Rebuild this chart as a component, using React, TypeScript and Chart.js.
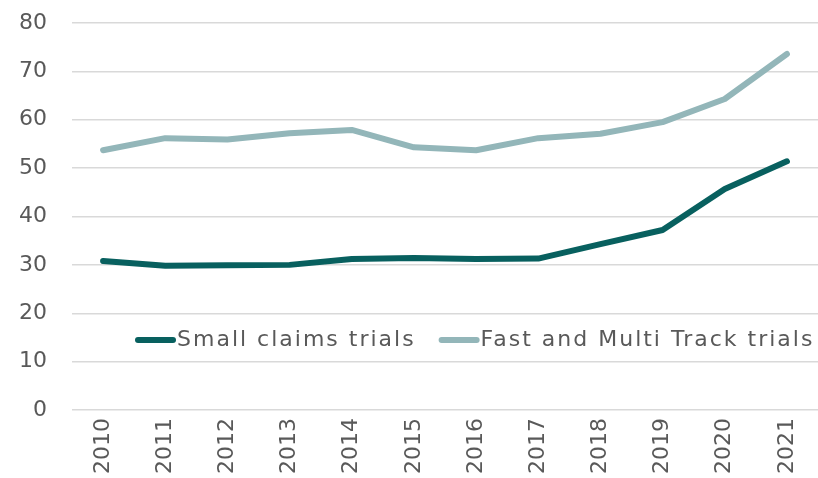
import React, { useEffect, useRef } from "react";
import { Chart, registerables } from "chart.js";

Chart.register(...registerables);

const years = ["2010", "2011", "2012", "2013", "2014", "2015", "2016", "2017", "2018", "2019", "2020", "2021"];
const smallClaims = [30.8, 29.8, 29.9, 30.0, 31.2, 31.4, 31.2, 31.3, 34.3, 37.2, 45.7, 51.4];
const fastMulti = [53.7, 56.2, 55.9, 57.2, 57.9, 54.3, 53.7, 56.2, 57.1, 59.5, 64.3, 73.6];
const seriesNames = ["Small claims trials", "Fast and Multi Track trials"];

const DARK = "#08605f";
const LIGHT = "#93b6b9";
const TEXT = "#595959";
const FONT = "'DejaVu Sans', sans-serif";

const legendPlugin = {
  id: "innerLegend",
  afterDraw(chart: any) {
    const ctx = chart.ctx;
    const area = chart.chartArea;
    const y = area.top + (area.bottom - area.top) * 0.819;
    let x = 135;
    ctx.save();
    ctx.font = "22px " + FONT;
    (ctx as any).letterSpacing = "2px";
    ctx.textBaseline = "middle";
    ctx.textAlign = "left";
    chart.data.datasets.forEach((ds: any) => {
      ctx.strokeStyle = ds.borderColor;
      ctx.lineWidth = 6;
      ctx.lineCap = "round";
      ctx.beginPath();
      ctx.moveTo(x + 3, y);
      ctx.lineTo(x + 38, y);
      ctx.stroke();
      x += 42;
      ctx.fillStyle = TEXT;
      ctx.fillText(ds.label, x, y);
      x += ctx.measureText(ds.label).width + 23;
    });
    ctx.restore();
  },
};

export default function App() {
  const ref = useRef<HTMLCanvasElement>(null);
  useEffect(() => {
    document.body.style.margin = "0";
    const chart = new Chart(ref.current!, {
      type: "line",
      data: {
        labels: years,
        datasets: [
          { label: seriesNames[0], data: smallClaims, borderColor: DARK, backgroundColor: DARK, borderWidth: 6, pointRadius: 0, borderCapStyle: "round", borderJoinStyle: "round", tension: 0 },
          { label: seriesNames[1], data: fastMulti, borderColor: LIGHT, backgroundColor: LIGHT, borderWidth: 6, pointRadius: 0, borderCapStyle: "round", borderJoinStyle: "round", tension: 0 },
        ],
      },
      options: {
        animation: false,
        responsive: false,
        layout: { padding: { top: 23, left: 0, right: 0, bottom: 0 } },
        plugins: { legend: { display: false }, tooltip: { enabled: false } },
        scales: {
          x: {
            offset: true,
            grid: { display: false, drawTicks: false },
            border: { display: false },
            ticks: { color: TEXT, font: { family: FONT, size: 22 }, minRotation: 90, maxRotation: 90, padding: 8 },
            afterFit(scale: any) {
              scale.height = 68;
              scale.paddingLeft = 0;
              scale.paddingRight = 0;
            },
          },
          y: {
            min: 0,
            max: 80,
            ticks: { stepSize: 10, color: TEXT, font: { family: FONT, size: 22 }, padding: 25 },
            grid: { color: "#d9d9d9", lineWidth: 1.5, drawTicks: false },
            border: { display: false },
            afterFit(scale: any) {
              scale.width = 72;
              scale.paddingTop = 0;
              scale.paddingBottom = 0;
            },
          },
        },
      },
      plugins: [legendPlugin],
    });
    return () => chart.destroy();
  }, []);
  return (
    <div style={{ width: 818, height: 478 }}>
      <canvas ref={ref} width={818} height={478} style={{ display: "block" }} />
    </div>
  );
}
